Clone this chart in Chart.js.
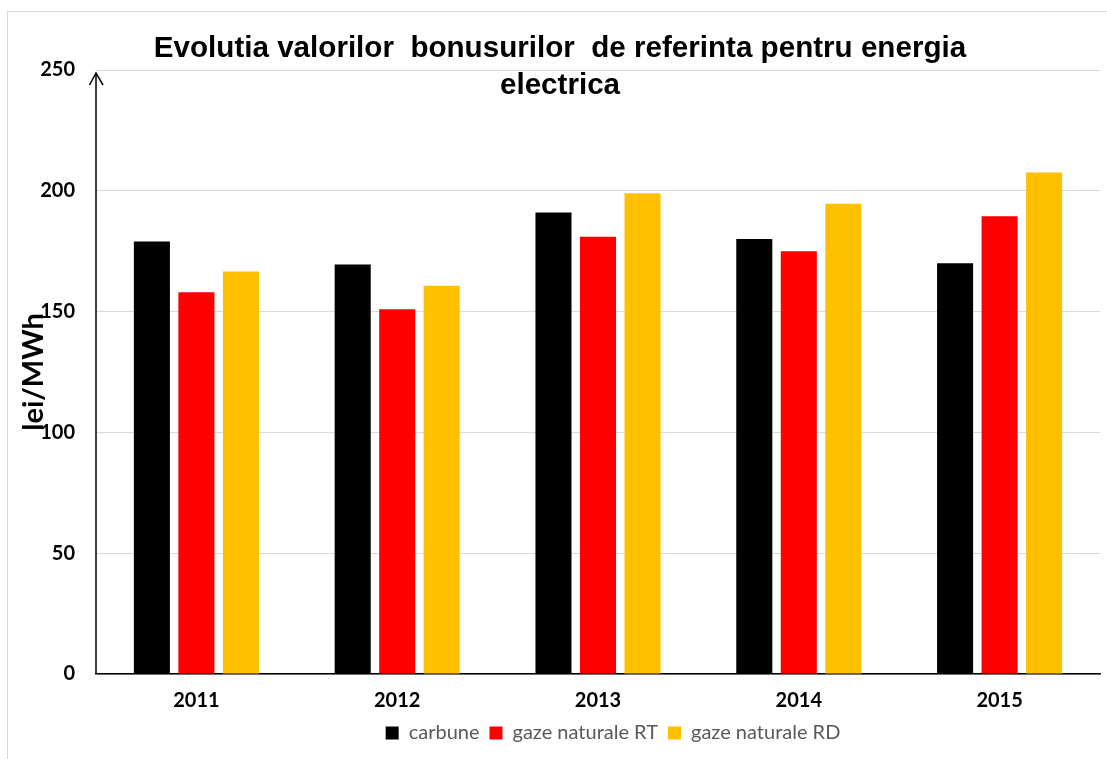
<!DOCTYPE html>
<html>
<head>
<meta charset="utf-8">
<script src="https://cdn.jsdelivr.net/npm/chart.js@4"></script>
<style>
    body { margin: 0; background: #fff; }
    #frame {
        position: absolute; left: 7px; top: 11px; right: 0; bottom: 0;
        border-top: 1px solid #d9d9d9; border-left: 1px solid #d9d9d9;
    }
    #bonusChart { position: absolute; left: 0; top: 0; }
</style>
</head>
<body>
<div id="frame"></div>
<canvas id="bonusChart" width="1107" height="759"></canvas>
<script>
// ani
var years = ['2011', '2012', '2013', '2014', '2015'];
// bonus de referinta, lei/MWh
var carbune = [179, 169.5, 191, 180, 170];
var gazeRT = [158, 151, 181, 175, 189.5];
var gazeRD = [166.6, 160.7, 199, 194.6, 207.6];
// axa verticala
var yTicks = [0, 50, 100, 150, 200, 250];

document.addEventListener('DOMContentLoaded', function () {
    // sageata in varful axei Y + legenda putin mutata spre dreapta
    var axisArrow = {
        id: 'axisArrow',
        afterLayout: function (chart) {
            chart.legend.left += 15;
            chart.legend.right += 15;
        },
        afterDraw: function (chart) {
            var y = chart.scales.y;
            var ctx = chart.ctx;
            var x0 = y.right;
            ctx.save();
            ctx.strokeStyle = '#000';
            ctx.lineWidth = 1.5;
            ctx.beginPath();
            ctx.moveTo(x0, y.top + 3);
            ctx.lineTo(x0, y.bottom);
            ctx.moveTo(x0 - 6.5, y.top + 15);
            ctx.lineTo(x0, y.top + 3);
            ctx.lineTo(x0 + 7, y.top + 15);
            ctx.stroke();
            ctx.restore();
        }
    };

    new Chart(document.getElementById('bonusChart'), {
        type: 'bar',
        data: {
            labels: years,
            datasets: [{
                label: 'carbune',
                data: carbune,
                backgroundColor: '#000000'
            }, {
                label: 'gaze naturale RT',
                data: gazeRT,
                backgroundColor: '#ff0000'
            }, {
                label: 'gaze naturale RD',
                data: gazeRD,
                backgroundColor: '#ffc000'
            }]
        },
        options: {
            responsive: false,
            animation: false,
            events: [],
            categoryPercentage: 0.665,
            barPercentage: 0.81,
            layout: { padding: { left: 20, right: 7, top: 0, bottom: 6 } },
            plugins: {
                title: {
                    display: true,
                    text: ['Evolutia valorilor  bonusurilor  de referinta pentru energia', 'electrica'],
                    color: '#000',
                    font: { family: 'Liberation Sans', size: 29.6, weight: 'bold', lineHeight: 1.25 },
                    padding: { top: 30, bottom: -34 }
                },
                legend: {
                    position: 'bottom',
                    fullSize: false,
                    labels: {
                        boxWidth: 13,
                        boxHeight: 13,
                        padding: 10,
                        color: '#595959',
                        font: { family: 'Lato', size: 20 }
                    }
                },
                tooltip: { enabled: false }
            },
            scales: {
                x: {
                    grid: { display: false, drawTicks: false },
                    border: { color: '#000', width: 1.5 },
                    ticks: {
                        color: '#000',
                        padding: 15,
                        font: { family: 'Lato', size: 20, weight: 'bold' }
                    },
                    afterFit: function (s) { s.height = 39; }
                },
                y: {
                    min: 0,
                    max: 250,
                    afterBuildTicks: function (s) {
                        s.ticks = yTicks.map(function (v) { return { value: v }; });
                    },
                    grid: { color: '#d9d9d9', lineWidth: 1, drawTicks: false },
                    border: { display: false },
                    ticks: {
                        color: '#000',
                        padding: 21,
                        font: { family: 'Lato', size: 20, weight: 'bold' }
                    },
                    title: {
                        display: true,
                        text: 'lei/MWh',
                        color: '#000',
                        padding: { top: -4, bottom: 4 },
                        font: { family: 'Lato', size: 29, weight: 'bold' }
                    },
                    afterFit: function (s) { s.width = 76; }
                }
            }
        },
        plugins: [axisArrow]
    });
});
</script>
</body>
</html>
